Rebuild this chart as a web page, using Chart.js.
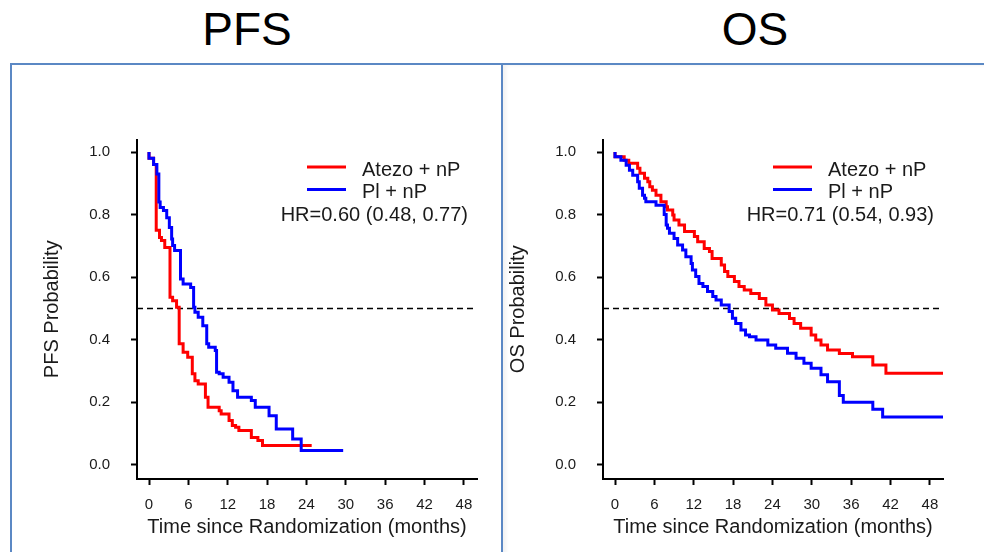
<!DOCTYPE html>
<html>
<head>
<meta charset="utf-8">
<title>PFS / OS</title>
<script src="https://cdn.jsdelivr.net/npm/chart.js@4.4.1/dist/chart.umd.min.js"></script>
<style>
  html, body { margin:0; padding:0; background:#fff; }
  body { width:984px; height:552px; position:relative; overflow:hidden; font-family:'Liberation Sans', Arial, sans-serif; }
  .panel { position:absolute; top:63px; height:600px; border:2px solid #5b88c4; box-sizing:border-box; }
  .title { position:absolute; top:6px; font-size:46px; line-height:46px; color:#000; transform:translateX(-50%); white-space:nowrap; }
  canvas { position:absolute; top:0; }
</style>
</head>
<body>
  <div class="panel" style="left:10px;width:493px;"></div>
  <div class="panel" style="left:501px;width:600px;box-shadow:inset 3px 0 4px rgba(0,0,0,0.06);"></div>
  <div class="title" style="left:247px;">PFS</div>
  <div class="title" style="left:755px;">OS</div>
  <canvas id="pfsChart" width="466" height="552" style="left:26px;"></canvas>
  <canvas id="osChart" width="466" height="552" style="left:492px;"></canvas>

<script>
const ARM_LABELS = ['Atezo + nP', 'Pl + nP'];
const ARM_COLORS = ['#ff0000', '#0000ff'];
const X_TICKS = [0, 6, 12, 18, 24, 30, 36, 42, 48];
const Y_TICKS = [0, 0.2, 0.4, 0.6, 0.8, 1.0];
const MEDIAN_LINE = 0.5;

// PFS - Atezo + nP (months, survival after each drop)
const PFS_ATEZO_MONTHS = [0, 0.7, 1.1, 1.6, 1.9, 2.4, 3.2, 3.6, 4.2, 4.6, 5.2, 5.9, 6.6, 7.0, 7.5, 8.6, 9.0, 10.7, 11.0, 12.2, 12.7, 13.2, 13.7, 15.6, 16.6, 17.3, 21.0, 24.8];
const PFS_ATEZO_SURV   = [1.0, 0.98, 0.96, 0.75, 0.727, 0.717, 0.695, 0.536, 0.525, 0.504, 0.387, 0.36, 0.344, 0.291, 0.269, 0.259, 0.216, 0.184, 0.173, 0.163, 0.142, 0.126, 0.12, 0.11, 0.088, 0.078, 0.062, 0.062];

// PFS - Pl + nP
const PFS_PL_MONTHS = [0, 0.7, 1.2, 1.5, 1.7, 2.2, 2.7, 3.1, 3.45, 3.6, 3.9, 4.8, 5.2, 6.35, 6.8, 7.0, 7.5, 8.2, 8.8, 9.1, 10.1, 10.3, 10.7, 11.3, 12.2, 12.8, 13.5, 15.6, 16.2, 18.3, 19.4, 21.9, 23.2, 24.9, 29.6];
const PFS_PL_SURV   = [1.0, 0.98, 0.96, 0.93, 0.84, 0.823, 0.813, 0.79, 0.759, 0.722, 0.701, 0.685, 0.594, 0.578, 0.567, 0.504, 0.488, 0.472, 0.445, 0.387, 0.376, 0.366, 0.296, 0.291, 0.28, 0.264, 0.237, 0.216, 0.206, 0.184, 0.157, 0.115, 0.083, 0.046, 0.046];

// OS - Atezo + nP
const OS_ATEZO_MONTHS = [0, 1.4, 2.1, 3.45, 3.8, 4.5, 5.0, 5.3, 5.7, 6.25, 7.0, 7.8, 8.0, 8.8, 9.0, 9.75, 10.6, 12.1, 12.6, 13.6, 14.4, 14.8, 16.2, 16.7, 17.2, 18.2, 18.9, 19.7, 20.7, 22.0, 23.0, 24.0, 25.0, 26.6, 27.3, 28.3, 29.9, 30.6, 31.4, 32.4, 34.2, 36.2, 39.3, 41.3, 44.3, 50];
const OS_ATEZO_SURV   = [1.0, 0.985, 0.974, 0.964, 0.948, 0.932, 0.916, 0.905, 0.889, 0.878, 0.862, 0.841, 0.825, 0.815, 0.799, 0.783, 0.767, 0.746, 0.73, 0.713, 0.692, 0.682, 0.66, 0.639, 0.618, 0.602, 0.586, 0.57, 0.559, 0.548, 0.532, 0.511, 0.495, 0.484, 0.468, 0.452, 0.437, 0.415, 0.399, 0.383, 0.367, 0.356, 0.346, 0.319, 0.293, 0.293];

// OS - Pl + nP
const OS_PL_MONTHS = [0, 0.9, 1.7, 2.2, 2.7, 3.45, 3.7, 4.2, 4.5, 4.7, 6.25, 7.5, 7.8, 8.0, 8.3, 9.0, 9.55, 10.3, 10.8, 11.6, 11.8, 12.3, 12.8, 13.4, 14.1, 14.9, 15.4, 16.2, 17.4, 17.9, 18.4, 19.2, 19.9, 20.5, 21.5, 23.3, 24.5, 26.3, 27.6, 28.8, 29.9, 31.4, 32.4, 34.2, 34.8, 39.3, 40.8, 42.8, 50];
const OS_PL_SURV   = [1.0, 0.985, 0.974, 0.958, 0.942, 0.926, 0.905, 0.884, 0.862, 0.852, 0.841, 0.83, 0.8, 0.767, 0.756, 0.74, 0.724, 0.703, 0.687, 0.665, 0.644, 0.623, 0.602, 0.58, 0.57, 0.554, 0.538, 0.527, 0.511, 0.49, 0.469, 0.452, 0.431, 0.415, 0.41, 0.399, 0.383, 0.373, 0.357, 0.341, 0.325, 0.309, 0.288, 0.266, 0.222, 0.2, 0.178, 0.153, 0.153];

Chart.defaults.font.family = "'Liberation Sans', Arial, sans-serif";
Chart.defaults.color = '#1a1a1a';

// dashed median line, drawn under the curves
const medianLine = {
  id: 'medianLine',
  beforeDatasetsDraw(chart) {
    const { ctx, chartArea: { left, right }, scales: { y } } = chart;
    const py = y.getPixelForValue(MEDIAN_LINE);
    ctx.save();
    ctx.strokeStyle = '#000';
    ctx.lineWidth = 1.5;
    ctx.setLineDash([6, 4]);
    ctx.beginPath();
    ctx.moveTo(left, py);
    ctx.lineTo(right, py);
    ctx.stroke();
    ctx.restore();
  }
};

// R-style legend in the top right corner + HR text
const kmLegend = {
  id: 'kmLegend',
  afterDatasetsDraw(chart, args, opts) {
    const { ctx, chartArea: { top, right } } = chart;
    ctx.save();
    ctx.font = "20px 'Liberation Sans', Arial, sans-serif";
    ctx.fillStyle = '#1a1a1a';
    ctx.textBaseline = 'middle';
    ARM_LABELS.forEach((label, i) => {
      const y = top + 30.5 + i * 22.5;
      ctx.strokeStyle = ARM_COLORS[i];
      ctx.lineWidth = 3;
      ctx.beginPath();
      ctx.moveTo(right - 170, y - 3);
      ctx.lineTo(right - 131, y - 3);
      ctx.stroke();
      ctx.textAlign = 'left';
      ctx.fillText(label, right - 115, y);
    });
    ctx.textAlign = 'right';
    ctx.fillText(opts.hr, right - 9, top + 76);
    ctx.restore();
  }
};

const axisGrid = { drawOnChartArea: false, drawTicks: true, tickLength: 6, tickWidth: 2, tickColor: '#000' };
const axisBorder = { display: true, color: '#000', width: 2 };

function kmChart(id, yTitle, hrText, arms) {
  new Chart(document.getElementById(id), {
    type: 'line',
    data: {
      datasets: arms.map((arm, i) => ({
        label: ARM_LABELS[i],
        data: arm.months.map((m, j) => ({ x: m, y: arm.surv[j] })),
        borderColor: ARM_COLORS[i],
        borderWidth: 3,
        stepped: 'after',
        pointRadius: 0,
        fill: false,
        order: arms.length - i   // blue drawn on top
      }))
    },
    options: {
      responsive: false,
      animation: false,
      layout: { padding: { top: 139.5, right: 15, bottom: 0, left: 0 } },
      plugins: {
        legend: { display: false },
        tooltip: { enabled: false },
        kmLegend: { hr: hrText }
      },
      scales: {
        x: {
          type: 'linear',
          min: -1.83,
          max: 50,
          afterFit: s => { s.height = 73; },
          afterBuildTicks: s => { s.ticks = X_TICKS.map(v => ({ value: v })); },
          grid: axisGrid,
          border: axisBorder,
          ticks: { font: { size: 15 }, padding: 11, maxRotation: 0, autoSkip: false },
          title: { display: true, text: 'Time since Randomization (months)', font: { size: 20 }, padding: { top: 0, bottom: 13 } }
        },
        y: {
          type: 'linear',
          min: -0.045,
          max: 1.04,
          afterFit: s => { s.width = 111; },
          afterBuildTicks: s => { s.ticks = Y_TICKS.map(v => ({ value: v })); },
          grid: axisGrid,
          border: axisBorder,
          ticks: { font: { size: 15 }, padding: 21, autoSkip: false, callback: v => v.toFixed(1) },
          title: { display: true, text: yTitle, font: { size: 20 }, padding: { top: 14, bottom: 0 } }
        }
      }
    },
    plugins: [medianLine, kmLegend]
  });
}

kmChart('pfsChart', 'PFS Probability', 'HR=0.60 (0.48, 0.77)', [
  { months: PFS_ATEZO_MONTHS, surv: PFS_ATEZO_SURV },
  { months: PFS_PL_MONTHS, surv: PFS_PL_SURV }
]);

kmChart('osChart', 'OS Probability', 'HR=0.71 (0.54, 0.93)', [
  { months: OS_ATEZO_MONTHS, surv: OS_ATEZO_SURV },
  { months: OS_PL_MONTHS, surv: OS_PL_SURV }
]);
</script>
</body>
</html>
